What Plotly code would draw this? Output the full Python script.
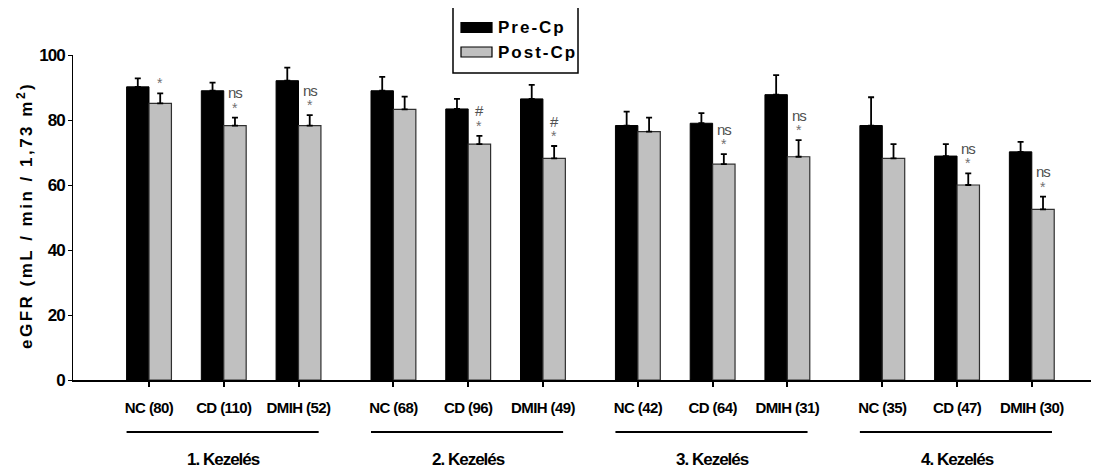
import plotly.graph_objects as go

# ---------------- data ----------------
groups = ["1. Kezelés", "2. Kezelés", "3. Kezelés", "4. Kezelés"]
categories = ["NC (80)", "CD (110)", "DMIH (52)",
              "NC (68)", "CD (96)", "DMIH (49)",
              "NC (42)", "CD (64)", "DMIH (31)",
              "NC (35)", "CD (47)", "DMIH (30)"]
pre = [90.2, 89.0, 92.1, 89.0, 83.4, 86.5, 78.3, 79.0, 87.8, 78.3, 68.9, 70.2]
pre_err = [2.6, 2.5, 4.0, 4.3, 3.1, 4.3, 4.3, 3.1, 6.0, 8.7, 3.7, 3.1]
post = [85.1, 78.3, 78.3, 83.3, 72.6, 68.2, 76.4, 66.4, 68.7, 68.2, 60.0, 52.5]
post_err = [3.1, 2.4, 3.2, 3.9, 2.5, 3.8, 4.3, 3.1, 5.1, 4.4, 3.6, 3.9]
sig_star = ["*", "*", "*", "", "*", "*", "", "*", "*", "", "*", "*"]
sig_top = ["", "ns", "ns", "", "#", "#", "", "ns", "ns", "", "ns", "ns"]
series_names = ["Pre-Cp", "Post-Cp"]
y_title = "eGFR (mL / min / 1,73 m<sup>2</sup>)"
y_ticks = [0, 20, 40, 60, 80, 100]

# ---------------- layout helpers ----------------
PER_GROUP = 3
GROUP_STEP = 3.27
BAR_W = 0.30
pos = [(i // PER_GROUP) * GROUP_STEP + (i % PER_GROUP) for i in range(len(categories))]

FONT = "Liberation Sans, Arial, sans-serif"
BLACK = "#000000"
GREY = "#c0c0c0"

# page has an 8px body margin; size the figure so it fills the window
OFF = 8
W, H = 1099 - OFF, 474 - OFF
# plot area in page pixels
PL, PR, PT, PB = 73, 1097, 55, 380
ML, MR, MT, MB = PL - OFF, W - (PR - OFF), PT - OFF, H - (PB - OFF)
UNIT = 74.75  # px per category step


def px_x(p):
    return (p - PL) / (PR - PL)


def px_y(p):
    return (PB - p) / (PB - PT)


def spaced(txt, sp):
    return '<span style="letter-spacing:%spx">%s</span>' % (sp, txt)


fig = go.Figure()
fig.add_trace(go.Bar(
    x=pos, y=pre, width=BAR_W, offset=-BAR_W, name=series_names[0],
    marker=dict(color=BLACK, line=dict(color=BLACK, width=1)),
    error_y=dict(type="data", array=pre_err, arrayminus=[0] * len(pre),
                 symmetric=False, color=BLACK, thickness=1.8, width=3),
    showlegend=False,
))
fig.add_trace(go.Bar(
    x=pos, y=post, width=BAR_W, offset=0, name=series_names[1],
    marker=dict(color=GREY, line=dict(color="#303030", width=1.2)),
    error_y=dict(type="data", array=post_err, arrayminus=[0] * len(post),
                 symmetric=False, color=BLACK, thickness=1.8, width=3),
    showlegend=False,
))

annotations = []
shapes = []

# significance marks
for i, p in enumerate(pos):
    top = post[i] + post_err[i]
    xc = p + BAR_W / 2
    if sig_star[i]:
        annotations.append(dict(x=xc, y=top, xref="x", yref="y", text=sig_star[i],
                                showarrow=False, yanchor="middle", yshift=10,
                                font=dict(family=FONT, size=14, color="#707070")))
    if sig_top[i]:
        annotations.append(dict(x=xc, y=top, xref="x", yref="y", text=spaced(sig_top[i], -1),
                                showarrow=False, yanchor="middle", yshift=25,
                                font=dict(family=FONT, size=15, color="#505050")))

# group underlines and labels
for g, name in enumerate(groups):
    first = pos[g * PER_GROUP]
    last = pos[g * PER_GROUP + PER_GROUP - 1]
    shapes.append(dict(type="line", xref="x", yref="paper",
                       x0=first - BAR_W, x1=last + 0.27,
                       y0=px_y(432), y1=px_y(432),
                       line=dict(color=BLACK, width=2)))
    annotations.append(dict(x=pos[g * PER_GROUP + 1], y=px_y(459), xref="x", yref="paper",
                            text=spaced(name, -1), showarrow=False,
                            xanchor="center", yanchor="middle",
                            font=dict(family=FONT, size=17, color=BLACK, weight="bold")))

# legend box (drawn manually)
shapes.append(dict(type="rect", xref="paper", yref="paper",
                   x0=px_x(453), x1=px_x(578), y0=px_y(73), y1=px_y(5),
                   line=dict(color=BLACK, width=1.5), fillcolor="white"))
legend_rows = [(BLACK, 27.5), (GREY, 52)]
for (col, yc), nm in zip(legend_rows, series_names):
    shapes.append(dict(type="rect", xref="paper", yref="paper",
                       x0=px_x(461), x1=px_x(492), y0=px_y(yc + 5), y1=px_y(yc - 5),
                       line=dict(color=BLACK, width=1.2), fillcolor=col))
    annotations.append(dict(x=px_x(496), y=px_y(yc), xref="paper", yref="paper",
                            text=spaced(nm, 2), showarrow=False,
                            xanchor="left", yanchor="middle",
                            font=dict(family=FONT, size=17, color=BLACK, weight="bold")))

# y-axis title
annotations.append(dict(x=px_x(25), y=px_y(216), xref="paper", yref="paper",
                        text=spaced(y_title, 2.5), textangle=-90,
                        showarrow=False, xanchor="center", yanchor="middle",
                        font=dict(family=FONT, size=17, color=BLACK, weight="bold")))

fig.update_layout(
    width=W, height=H, autosize=False,
    margin=dict(l=ML, r=MR, t=MT, b=MB, pad=0),
    paper_bgcolor="white", plot_bgcolor="white",
    showlegend=False,
    annotations=annotations, shapes=shapes,
    xaxis=dict(range=[(PL - 149) / UNIT, (PR - 149) / UNIT],
               tickvals=pos, ticktext=[spaced(c, -0.6) for c in categories],
               ticks="outside", ticklen=5, tickwidth=1.5, tickcolor=BLACK,
               ticklabelstandoff=8,
               showline=True, linecolor=BLACK, linewidth=2,
               showgrid=False, zeroline=False,
               tickfont=dict(family=FONT, size=15, color=BLACK, weight="bold")),
    yaxis=dict(range=[0, 100], tickvals=y_ticks,
               ticktext=[spaced(str(v), -1) for v in y_ticks],
               ticks="outside", ticklen=4, tickwidth=1, tickcolor=BLACK,
               showline=True, linecolor=BLACK, linewidth=1,
               showgrid=False, zeroline=False,
               tickfont=dict(family=FONT, size=17, color=BLACK, weight="bold")),
)

fig.write_html("out.html")
